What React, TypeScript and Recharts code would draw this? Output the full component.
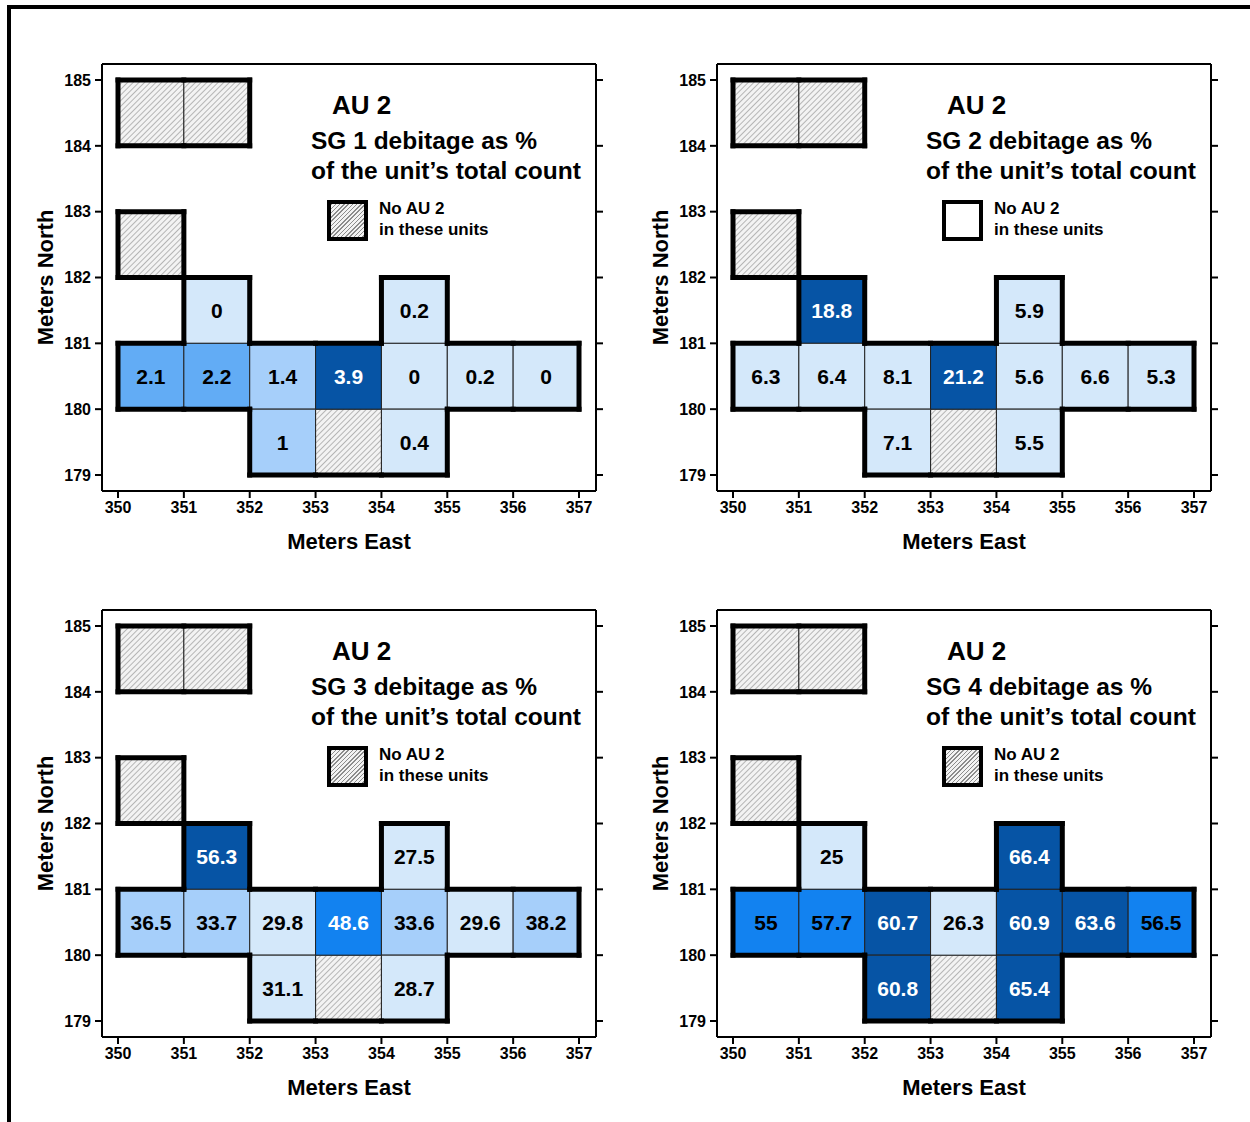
import React from "react";
import {
  ScatterChart,
  Scatter,
  XAxis,
  YAxis,
  ReferenceArea,
  ReferenceLine,
} from "recharts";

const FONT = "'Liberation Sans', Arial, Helvetica, sans-serif";

// excavation units, lower-left corner (meters east / meters north)
const unitEast = [351, 354, 350, 351, 352, 353, 354, 355, 356, 352, 354];
const unitNorth = [181, 181, 180, 180, 180, 180, 180, 180, 180, 179, 179];

// units with no AU 2 (hatched)
const emptyEast = [350, 351, 350, 353];
const emptyNorth = [184, 184, 182, 179];

const sizeGroups = ["SG 1", "SG 2", "SG 3", "SG 4"];
const sg1Values = [0, 0.2, 2.1, 2.2, 1.4, 3.9, 0, 0.2, 0, 1, 0.4];
const sg2Values = [18.8, 5.9, 6.3, 6.4, 8.1, 21.2, 5.6, 6.6, 5.3, 7.1, 5.5];
const sg3Values = [56.3, 27.5, 36.5, 33.7, 29.8, 48.6, 33.6, 29.6, 38.2, 31.1, 28.7];
const sg4Values = [25, 66.4, 55, 57.7, 60.7, 26.3, 60.9, 63.6, 56.5, 60.8, 65.4];

// class breaks used for the shading of each map
const sg1Breaks = [0.5, 1.5, 3];
const sg2Breaks = [10];
const sg3Breaks = [32, 40, 50];
const sg4Breaks = [30, 60];

const eastTicks = [350, 351, 352, 353, 354, 355, 356, 357];
const northTicks = [179, 180, 181, 182, 183, 184, 185];

const X_DOMAIN: [number, number] = [349.757, 357.258];
const Y_DOMAIN: [number, number] = [178.757, 185.243];

const PALE = "#d4e8fa";
const LIGHT = "#a6cffa";
const MID = "#62acf5";
const BRIGHT = "#1282f0";
const DARK = "#0654a5";

const panels = [
  { values: sg1Values, breaks: sg1Breaks, fills: [PALE, LIGHT, MID, DARK], text: ["#000", "#000", "#000", "#fff"], keyHatched: true },
  { values: sg2Values, breaks: sg2Breaks, fills: [PALE, DARK], text: ["#000", "#fff"], keyHatched: false },
  { values: sg3Values, breaks: sg3Breaks, fills: [PALE, LIGHT, BRIGHT, DARK], text: ["#000", "#000", "#fff", "#fff"], keyHatched: true },
  { values: sg4Values, breaks: sg4Breaks, fills: [PALE, BRIGHT, DARK], text: ["#000", "#000", "#fff"], keyHatched: true },
];

const W = 615;
const H = 560;

// outer boundary of all the units, as unit-length segments
const allCells = [
  ...unitEast.map((e, i) => [e, unitNorth[i]]),
  ...emptyEast.map((e, i) => [e, emptyNorth[i]]),
];
const has = (x: number, y: number) => allCells.some(([a, b]) => a === x && b === y);
const edges: { x1: number; y1: number; x2: number; y2: number }[] = [];
allCells.forEach(([x, y]) => {
  if (!has(x, y - 1)) edges.push({ x1: x, y1: y, x2: x + 1, y2: y });
  if (!has(x, y + 1)) edges.push({ x1: x, y1: y + 1, x2: x + 1, y2: y + 1 });
  if (!has(x - 1, y)) edges.push({ x1: x, y1: y, x2: x, y2: y + 1 });
  if (!has(x + 1, y)) edges.push({ x1: x + 1, y1: y, x2: x + 1, y2: y + 1 });
});

const axisStroke = { stroke: "#000", strokeWidth: 2 };
const tickStyle = { fill: "#000", fontSize: 16, fontWeight: "bold", fontFamily: FONT };

const CellLabel = (props: any) => {
  const { cx, cy, payload } = props;
  return (
    <text
      x={cx}
      y={cy}
      textAnchor="middle"
      dominantBaseline="central"
      fontSize={21}
      fontWeight="bold"
      fontFamily={FONT}
      fill={payload.color}
    >
      {payload.label}
    </text>
  );
};

const Panel = ({ idx, left, top }: { idx: number; left: number; top: number }) => {
  const p = panels[idx];
  const hatchId = `hatch-${idx}`;
  const cls = (v: number) => p.breaks.filter((b) => v >= b).length;
  const labels = p.values.map((v, i) => ({
    x: unitEast[i] + 0.5,
    y: unitNorth[i] + 0.5,
    label: String(v),
    color: p.text[cls(v)],
  }));

  return (
    <div style={{ position: "absolute", left, top, width: W, height: H }}>
      <ScatterChart width={W} height={H} margin={{ top: 44, right: 4, bottom: 11, left: 30 }}>
        <defs>
          <pattern id={hatchId} width={4} height={4} patternUnits="userSpaceOnUse" patternTransform="rotate(45)">
            <rect width={4} height={4} fill="#f3f3f3" />
            <line x1={0} y1={0} x2={0} y2={4} stroke="#8c8c8c" strokeWidth={1.2} />
          </pattern>
        </defs>
        <XAxis
          xAxisId="b"
          dataKey="x"
          type="number"
          domain={X_DOMAIN}
          ticks={eastTicks}
          interval={0}
          allowDataOverflow
          height={58}
          tickSize={7}
          tickMargin={4}
          axisLine={axisStroke}
          tickLine={axisStroke}
          tick={tickStyle}
          label={{ value: "Meters East", position: "insideBottom", offset: 0, fontSize: 22, fontWeight: "bold", fontFamily: FONT, fill: "#000" }}
        />
        <XAxis
          xAxisId="t"
          orientation="top"
          type="number"
          domain={X_DOMAIN}
          ticks={eastTicks}
          interval={0}
          allowDataOverflow
          height={20}
          tickSize={7}
          axisLine={axisStroke}
          tickLine={axisStroke}
          tickFormatter={() => ""}
        />
        <YAxis
          yAxisId="l"
          dataKey="y"
          type="number"
          domain={Y_DOMAIN}
          ticks={northTicks}
          interval={0}
          allowDataOverflow
          width={72}
          tickSize={7}
          tickMargin={4}
          axisLine={axisStroke}
          tickLine={axisStroke}
          tick={tickStyle}
          label={{ value: "Meters North", angle: -90, position: "insideLeft", offset: 15, style: { textAnchor: "middle" }, fontSize: 22, fontWeight: "bold", fontFamily: FONT, fill: "#000" }}
        />
        <YAxis
          yAxisId="r"
          orientation="right"
          type="number"
          domain={Y_DOMAIN}
          ticks={northTicks}
          interval={0}
          allowDataOverflow
          width={15}
          tickSize={7}
          axisLine={axisStroke}
          tickLine={axisStroke}
          tickFormatter={() => ""}
        />
        {emptyEast.map((e, i) => (
          <ReferenceArea
            key={`e${i}`}
            xAxisId="b"
            yAxisId="l"
            x1={e}
            x2={e + 1}
            y1={emptyNorth[i]}
            y2={emptyNorth[i] + 1}
            fill={`url(#${hatchId})`}
            fillOpacity={1}
            stroke="#222"
            strokeWidth={1}
          />
        ))}
        {p.values.map((v, i) => (
          <ReferenceArea
            key={`u${i}`}
            xAxisId="b"
            yAxisId="l"
            x1={unitEast[i]}
            x2={unitEast[i] + 1}
            y1={unitNorth[i]}
            y2={unitNorth[i] + 1}
            fill={p.fills[cls(v)]}
            fillOpacity={1}
            stroke="#222"
            strokeWidth={1}
          />
        ))}
        {edges.map((s, i) => (
          <ReferenceLine
            key={`s${i}`}
            xAxisId="b"
            yAxisId="l"
            segment={[{ x: s.x1, y: s.y1 }, { x: s.x2, y: s.y2 }]}
            stroke="#000"
            strokeWidth={5}
            strokeLinecap="square"
          />
        ))}
        <Scatter xAxisId="b" yAxisId="l" data={labels} shape={CellLabel} isAnimationActive={false} />
      </ScatterChart>

      <div style={{ position: "absolute", left: 332, top: 90, lineHeight: "30px", fontSize: 26, fontWeight: "bold", fontFamily: FONT, whiteSpace: "nowrap" }}>
        AU 2
      </div>
      <div style={{ position: "absolute", left: 311, top: 126, lineHeight: "30px", fontSize: 24.5, fontWeight: "bold", fontFamily: FONT, whiteSpace: "nowrap" }}>
        {sizeGroups[idx]} debitage as %
        <br />
        of the unit’s total count
      </div>
      <div
        style={{
          position: "absolute",
          left: 327,
          top: 200,
          width: 41,
          height: 41,
          boxSizing: "border-box",
          border: "4px solid #000",
          background: p.keyHatched
            ? "repeating-linear-gradient(135deg, #8c8c8c 0 1px, #f3f3f3 1px 3px)"
            : "#fff",
        }}
      />
      <div style={{ position: "absolute", left: 379, top: 198, lineHeight: "21px", fontSize: 17, fontWeight: "bold", fontFamily: FONT, whiteSpace: "nowrap" }}>
        No AU 2
        <br />
        in these units
      </div>
    </div>
  );
}

export default function App() {
  return (
    <div style={{ position: "absolute", left: 0, top: 0, width: 1250, height: 1122, overflow: "hidden", background: "#fff" }}>
      <div
        style={{
          position: "absolute",
          left: 7,
          top: 5,
          width: 1243,
          height: 1117,
          boxSizing: "border-box",
          borderTop: "4px solid #000",
          borderLeft: "4px solid #000",
        }}
      />
      <Panel idx={0} left={0} top={0} />
      <Panel idx={1} left={615} top={0} />
      <Panel idx={2} left={0} top={546} />
      <Panel idx={3} left={615} top={546} />
    </div>
  );
}
